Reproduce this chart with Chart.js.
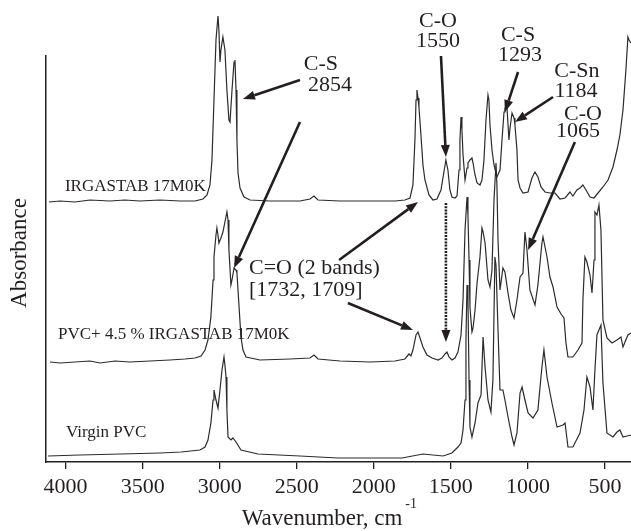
<!DOCTYPE html>
<html>
<head>
<meta charset="utf-8">
<script src="https://cdn.jsdelivr.net/npm/chart.js@4/dist/chart.umd.min.js"></script>
<style>
  html, body { margin: 0; padding: 0; background: #fff; }
  #wrap { width: 631px; height: 531px; }
</style>
</head>
<body>
<div id="wrap"><canvas id="ftir" width="631" height="531"></canvas></div>
<script>
// wavenumber ticks (cm-1)
const xTicks = [4000, 3500, 3000, 2500, 2000, 1500, 1000, 500];

// IRGASTAB 17M0K (offset trace, as plotted)
const wnTop = [4108, 4036, 3939, 3842, 3712, 3615, 3517, 3387, 3258, 3160, 3108, 3082, 3063, 3050, 3037, 3024, 3011, 3005, 2998, 2992,
    2979, 2966, 2953, 2940, 2933, 2920, 2907, 2901, 2894, 2888, 2881, 2868, 2842, 2803, 2674, 2479, 2414, 2388, 2362, 2219,
    2025, 1863, 1798, 1765, 1746, 1733, 1726, 1720, 1713, 1707, 1694, 1681, 1668, 1642, 1616, 1590, 1564, 1545, 1532, 1519,
    1506, 1493, 1473, 1460, 1447, 1441, 1434, 1428, 1421, 1408, 1395, 1389, 1376, 1363, 1356, 1343, 1330, 1311, 1298, 1285,
    1272, 1259, 1253, 1246, 1233, 1220, 1201, 1181, 1168, 1155, 1149, 1136, 1123, 1116, 1103, 1090, 1084, 1071, 1064, 1051,
    1032, 999, 974, 954, 935, 915, 889, 857, 824, 792, 759, 727, 708, 682, 662, 643, 623, 597, 571, 545,
    513, 480, 448, 422, 403, 383, 364, 351, 344, 331];
const absTop = [2.60, 2.61, 2.60, 2.62, 2.61, 2.62, 2.61, 2.62, 2.61, 2.61, 2.63, 2.67, 2.77, 3.02, 3.62, 4.22, 4.46, 4.32, 4.00, 4.12,
    4.25, 4.12, 3.72, 3.42, 3.40, 3.72, 4.00, 4.02, 3.72, 3.22, 2.89, 2.74, 2.65, 2.62, 2.61, 2.61, 2.63, 2.66, 2.62, 2.61,
    2.61, 2.61, 2.62, 2.64, 2.77, 3.22, 3.62, 3.72, 3.64, 3.55, 3.27, 2.97, 2.82, 2.67, 2.62, 2.63, 2.72, 2.90, 3.02, 2.92,
    2.72, 2.65, 2.64, 2.66, 2.92, 3.22, 3.45, 3.32, 3.07, 2.82, 2.94, 2.99, 3.02, 3.04, 2.99, 2.87, 2.79, 2.77, 2.82, 3.02,
    3.42, 3.67, 3.62, 3.37, 3.12, 2.97, 2.85, 2.92, 3.22, 3.50, 3.54, 3.55, 3.22, 3.34, 3.49, 3.44, 3.37, 3.12, 2.82, 2.74,
    2.69, 2.70, 2.84, 2.90, 2.85, 2.75, 2.70, 2.69, 2.69, 2.63, 2.64, 2.70, 2.66, 2.72, 2.74, 2.77, 2.72, 2.65, 2.64, 2.69,
    2.75, 2.82, 2.95, 3.12, 3.27, 3.52, 3.92, 4.25, 4.22, 4.19];

// PVC + 4.5 % IRGASTAB 17M0K (offset trace, as plotted)
const wnMid = [4101, 4036, 3939, 3842, 3777, 3679, 3582, 3452, 3323, 3225, 3160, 3121, 3095, 3076, 3057, 3043, 3037, 3024, 3018, 3011,
    3005, 2992, 2979, 2966, 2953, 2946, 2940, 2927, 2920, 2907, 2894, 2888, 2875, 2862, 2849, 2829, 2739, 2544, 2414, 2388,
    2362, 2219, 2025, 1863, 1798, 1772, 1759, 1746, 1726, 1713, 1700, 1681, 1655, 1622, 1583, 1558, 1538, 1525, 1512, 1493,
    1473, 1454, 1434, 1421, 1408, 1395, 1389, 1382, 1376, 1363, 1356, 1343, 1330, 1311, 1298, 1291, 1278, 1259, 1246, 1233,
    1220, 1207, 1201, 1194, 1181, 1162, 1149, 1129, 1110, 1090, 1071, 1051, 1032, 1019, 1006, 987, 954, 935, 909, 902,
    876, 857, 837, 811, 785, 766, 753, 740, 708, 675, 649, 643, 630, 617, 597, 584, 571, 565, 552, 539,
    526, 513, 487, 454, 422, 396, 383, 351, 331];
const absMid = [1.00, 0.99, 1.00, 1.01, 0.99, 1.01, 1.00, 1.01, 1.02, 1.03, 1.04, 1.06, 1.12, 1.22, 1.45, 1.82, 2.05, 2.27, 2.34, 2.27,
    2.19, 2.24, 2.30, 2.40, 2.50, 2.42, 2.12, 1.77, 1.82, 1.94, 1.92, 1.89, 1.57, 1.25, 1.12, 1.05, 1.02, 1.03, 1.04, 1.07,
    1.03, 1.01, 1.00, 1.01, 1.03, 1.08, 1.06, 1.12, 1.27, 1.30, 1.24, 1.15, 1.07, 1.04, 1.02, 1.04, 1.08, 1.10, 1.05, 1.02,
    1.04, 1.10, 1.27, 1.62, 2.32, 2.65, 2.47, 2.02, 1.55, 1.30, 1.34, 1.52, 1.79, 2.05, 2.34, 2.30, 2.19, 1.82, 1.75, 1.92,
    2.62, 2.99, 2.77, 2.22, 1.72, 1.94, 1.90, 1.69, 1.52, 1.44, 1.62, 1.85, 1.89, 2.30, 2.12, 1.72, 1.57, 1.77, 2.19, 2.25,
    2.05, 1.85, 1.75, 1.55, 1.48, 1.44, 1.19, 1.05, 1.05, 1.12, 1.19, 1.62, 2.05, 2.00, 1.87, 1.69, 2.02, 2.50, 2.47, 2.57,
    2.32, 1.42, 1.24, 1.19, 1.22, 1.25, 1.15, 1.27, 1.29];

// Virgin PVC (offset trace, as plotted)
const wnVirgin = [4114, 3907, 3640, 3387, 3251, 3128, 3095, 3076, 3057, 3043, 3037, 3024, 3011, 2998, 2985, 2972, 2966, 2959, 2953, 2946,
    2927, 2914, 2894, 2862, 2752, 2479, 2232, 2025, 1817, 1681, 1551, 1493, 1454, 1434, 1421, 1408, 1402, 1395, 1389, 1382,
    1376, 1363, 1343, 1324, 1304, 1291, 1278, 1259, 1240, 1227, 1214, 1207, 1194, 1181, 1162, 1149, 1129, 1103, 1090, 1071,
    1051, 1038, 1019, 999, 967, 935, 909, 896, 876, 844, 811, 772, 759, 740, 708, 662, 636, 617, 597, 578,
    565, 552, 539, 526, 513, 487, 448, 422, 403, 383, 357, 331];
const absVirgin = [0.06, 0.07, 0.08, 0.09, 0.10, 0.12, 0.15, 0.22, 0.39, 0.62, 0.72, 0.62, 0.54, 0.72, 0.92, 1.05, 0.97, 0.85, 0.52, 0.25,
    0.22, 0.24, 0.20, 0.12, 0.08, 0.06, 0.04, 0.04, 0.04, 0.08, 0.06, 0.09, 0.15, 0.19, 0.32, 0.62, 1.22, 1.77, 1.62, 0.82,
    0.35, 0.25, 0.39, 0.59, 0.67, 1.25, 0.95, 0.62, 0.50, 0.82, 2.05, 1.97, 1.32, 0.72, 0.72, 0.62, 0.45, 0.25, 0.17, 0.29,
    0.69, 0.75, 0.62, 0.49, 0.44, 0.52, 0.95, 1.12, 0.85, 0.59, 0.35, 0.37, 0.39, 0.15, 0.15, 0.29, 0.52, 0.85, 0.75, 0.52,
    0.92, 1.27, 1.32, 1.37, 0.79, 0.29, 0.25, 0.30, 0.32, 0.25, 0.26, 0.27];

const INK = '#231f20';
const SERIF = '"Liberation Serif", "Times New Roman", serif';

function toPoints(wn, ab) {
    return wn.map((w, i) => ({ x: w, y: ab[i] }));
}

// labels and arrows, placed in wavenumber / absorbance units
const traceLabels = [
    { text: 'IRGASTAB 17M0K',            wn: 4004, a: 2.75 },
    { text: 'PVC+ 4.5 % IRGASTAB 17M0K', wn: 4049, a: 1.27 },
    { text: 'Virgin PVC',                wn: 3997, a: 0.29 },
];

const bandLabels = [
    { text: 'C-S',  wn: 2343, a: 3.98 },
    { text: '2854', wn: 2284, a: 3.77 },
    { text: 'C-O',  wn: 1583, a: 4.41 },
    { text: '1550', wn: 1583, a: 4.21 },
    { text: 'C-S',  wn: 1064, a: 4.27 },
    { text: '1293', wn: 1051, a: 4.07 },
    { text: 'C-Sn', wn: 682,  a: 3.91 },
    { text: '1184', wn: 688,  a: 3.71 },
    { text: 'C-O',  wn: 643,  a: 3.48 },
    { text: '1065', wn: 675,  a: 3.31 },
    { text: 'C=O (2 bands)', wn: 2810, a: 1.94, left: true },
    { text: '[1732, 1709]',  wn: 2810, a: 1.72, left: true },
];

const arrows = [
    { from: [2479, 3.82], to: [2849, 3.63] },
    { from: [2479, 3.40], to: [2907, 1.94] },
    { from: [1564, 4.06], to: [1532, 3.05] },
    { from: [1064, 3.90], to: [1149, 3.50] },
    { from: [837, 3.65],  to: [1084, 3.40] },
    { from: [695, 3.20],  to: [999, 2.12] },
    { from: [2225, 2.02], to: [1713, 2.60] },
    { from: [2168, 1.59], to: [1746, 1.32] },
    { from: [1532, 2.59], to: [1532, 1.20], dashed: true },
];

function drawArrow(ctx, x1, y1, x2, y2, dashed) {
    const ang = Math.atan2(y2 - y1, x2 - x1);
    const headLen = 12, headW = 4.5;
    const bx = x2 - headLen * Math.cos(ang);
    const by = y2 - headLen * Math.sin(ang);
    ctx.save();
    ctx.strokeStyle = INK;
    ctx.fillStyle = INK;
    ctx.lineWidth = 2.6;
    if (dashed) ctx.setLineDash([2, 1.2]);
    ctx.beginPath();
    ctx.moveTo(x1, y1);
    ctx.lineTo(bx, by);
    ctx.stroke();
    ctx.setLineDash([]);
    ctx.beginPath();
    ctx.moveTo(x2, y2);
    ctx.lineTo(bx + headW * Math.sin(ang), by - headW * Math.cos(ang));
    ctx.lineTo(bx - headW * Math.sin(ang), by + headW * Math.cos(ang));
    ctx.closePath();
    ctx.fill();
    ctx.restore();
}

const annotatePlugin = {
    id: 'annotate',
    afterDraw(chart) {
        const { ctx, scales: { x, y }, chartArea } = chart;
        ctx.save();
        ctx.fillStyle = INK;
        ctx.textBaseline = 'middle';

        ctx.font = '17px ' + SERIF;
        ctx.textAlign = 'left';
        traceLabels.forEach(l => ctx.fillText(l.text, x.getPixelForValue(l.wn), y.getPixelForValue(l.a)));

        ctx.font = '22px ' + SERIF;
        bandLabels.forEach(l => {
            ctx.textAlign = l.left ? 'left' : 'center';
            ctx.fillText(l.text, x.getPixelForValue(l.wn), y.getPixelForValue(l.a));
        });

        arrows.forEach(a => drawArrow(ctx,
            x.getPixelForValue(a.from[0]), y.getPixelForValue(a.from[1]),
            x.getPixelForValue(a.to[0]), y.getPixelForValue(a.to[1]), a.dashed));

        // axis titles
        ctx.font = '23px ' + SERIF;
        ctx.textAlign = 'center';
        const midX = 322;
        ctx.fillText('Wavenumber, cm', midX, 519);
        const w = ctx.measureText('Wavenumber, cm').width;
        ctx.font = '14px ' + SERIF;
        ctx.textAlign = 'left';
        ctx.fillText('-1', midX + w / 2 + 3, 504);

        ctx.font = '23px ' + SERIF;
        ctx.textAlign = 'center';
        ctx.translate(20, 253);
        ctx.rotate(-Math.PI / 2);
        ctx.fillText('Absorbance', 0, 0);
        ctx.restore();
    }
};

const lineStyle = {
    borderColor: '#2b2b2b',
    borderWidth: 1.2,
    pointRadius: 0,
    tension: 0,
    fill: false,
    clip: false,
};

new Chart(document.getElementById('ftir'), {
    type: 'line',
    data: {
        datasets: [
            { label: 'IRGASTAB 17M0K', data: toPoints(wnTop, absTop), ...lineStyle },
            { label: 'PVC+ 4.5 % IRGASTAB 17M0K', data: toPoints(wnMid, absMid), ...lineStyle },
            { label: 'Virgin PVC', data: toPoints(wnVirgin, absVirgin), ...lineStyle },
        ]
    },
    options: {
        responsive: false,
        animation: false,
        layout: { padding: { top: 56, left: 0, right: 0, bottom: 0 } },
        plugins: { legend: { display: false }, tooltip: { enabled: false } },
        scales: {
            x: {
                type: 'linear',
                reverse: true,
                min: 331,
                max: 4127,
                afterBuildTicks: s => { s.ticks = xTicks.map(v => ({ value: v })); },
                afterFit: s => { s.height = 69; },
                grid: { display: true, drawOnChartArea: false, drawTicks: true, tickLength: 7, color: INK, lineWidth: 1.3 },
                border: { display: true, color: INK, width: 1.5 },
                ticks: {
                    font: { family: SERIF, size: 22 }, color: INK, padding: 5, maxRotation: 0, autoSkip: false,
                    callback: v => String(v)
                }
            },
            y: {
                min: 0,
                max: 4.06,
                afterFit: s => { s.width = 46; },
                ticks: { display: false },
                grid: { display: false, drawTicks: false },
                border: { display: true, color: INK, width: 1.5 }
            }
        }
    },
    plugins: [annotatePlugin]
});
</script>
</body>
</html>
